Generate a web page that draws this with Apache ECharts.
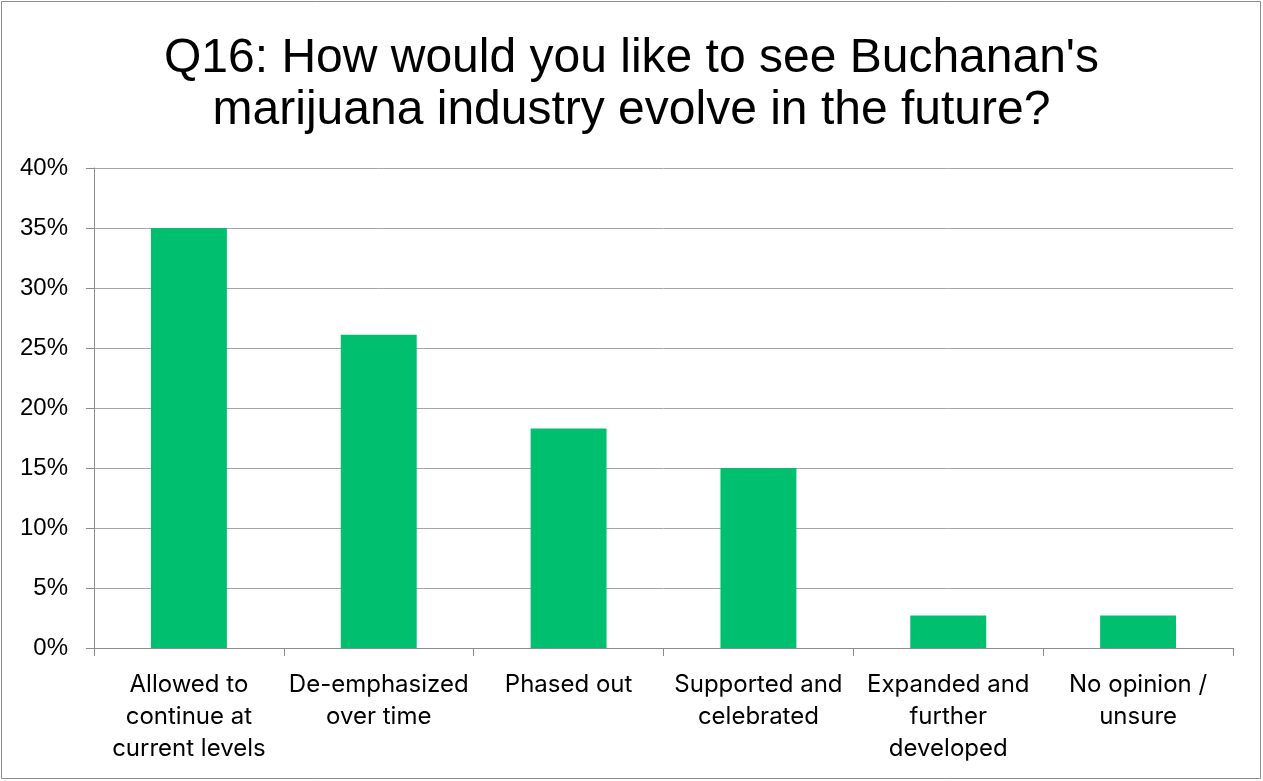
<!DOCTYPE html>
<html>
<head>
<meta charset="utf-8">
<title>Q16 Buchanan marijuana industry</title>
<script src="https://cdn.jsdelivr.net/npm/echarts@6/dist/echarts.min.js"></script>
<style>
  html, body { margin: 0; padding: 0; background: #ffffff; }
  #chart { width: 1263px; height: 781px; }
</style>
</head>
<body>
<div id="chart"></div>
<script>
// Survey answers and share of respondents (%)
const categories = [
  'Allowed to\ncontinue at\ncurrent levels',
  'De-emphasized\nover time',
  'Phased out',
  'Supported and\ncelebrated',
  'Expanded and\nfurther\ndeveloped',
  'No opinion /\nunsure'
];
const shares = [35.0, 26.1, 18.3, 15.0, 2.7, 2.7];
const yTicks = [0, 5, 10, 15, 20, 25, 30, 35, 40];

const titleLines = [
  "Q16: How would you like to see Buchanan's",
  'marijuana industry evolve in the future?'
];

const chart = echarts.init(document.getElementById('chart'), null, { renderer: 'canvas' });

chart.setOption({
  backgroundColor: '#ffffff',
  animation: false,
  title: {
    text: titleLines.join('\n'),
    left: 'center',
    top: 28,
    textStyle: {
      fontFamily: '"Liberation Sans", Arial, sans-serif',
      fontSize: 48,
      fontWeight: 'normal',
      color: '#000000',
      lineHeight: 52
    }
  },
  grid: { left: 94, right: 30, top: 168, bottom: 133, containLabel: false },
  xAxis: {
    type: 'category',
    data: categories,
    axisLine: { show: true, lineStyle: { color: '#8c8c8c', width: 1 } },
    axisTick: { show: true, length: 8, alignWithLabel: false, lineStyle: { color: '#8c8c8c' } },
    axisLabel: {
      interval: 0,
      margin: 21,
      fontFamily: 'Inter, "Open Sans", sans-serif',
      fontSize: 24,
      lineHeight: 32,
      color: '#000000'
    }
  },
  yAxis: {
    type: 'value',
    min: yTicks[0],
    max: yTicks[yTicks.length - 1],
    interval: 5,
    axisLine: { show: true, lineStyle: { color: '#8c8c8c', width: 1 } },
    axisTick: { show: true, length: 8, lineStyle: { color: '#8c8c8c' } },
    splitLine: { show: true, lineStyle: { color: '#a6a6a6', width: 1 } },
    axisLabel: {
      margin: 26,
      fontFamily: '"Liberation Sans", Arial, sans-serif',
      fontSize: 24,
      color: '#000000',
      formatter: v => v + '%'
    }
  },
  series: [{
    type: 'bar',
    data: shares,
    barCategoryGap: '60%',
    itemStyle: { color: '#00bf6f' }
  }],
  graphic: [{
    type: 'rect',
    shape: { x: 1.5, y: 1.5, width: 1259, height: 777 },
    style: { fill: 'none', stroke: '#8c8c8c', lineWidth: 1 },
    silent: true
  }]
});
</script>
</body>
</html>
